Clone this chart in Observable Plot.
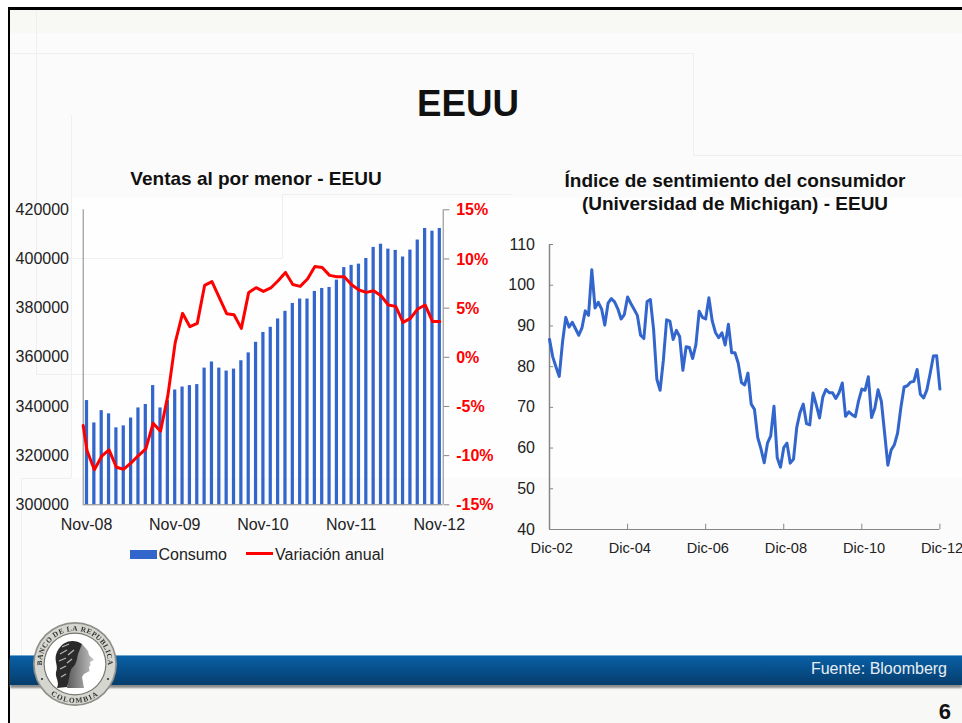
<!DOCTYPE html>
<html lang="es">
<head>
<meta charset="utf-8">
<script src="https://cdn.jsdelivr.net/npm/d3@7"></script>
<script src="https://cdn.jsdelivr.net/npm/@observablehq/plot@0.6"></script>
<style>
html,body{margin:0;padding:0;background:#fff}
body{width:962px;height:723px;overflow:hidden;position:relative;font-family:"Liberation Sans",Arial,sans-serif;color:#111}
#slide{position:absolute;left:8px;top:7px;right:0;bottom:0;background:#fbfbfb;border-left:2.5px solid #000;border-top:3px solid #000;overflow:hidden}
.abs{position:absolute;white-space:nowrap}
.deco{position:absolute;background:#efefef}
.plotbox{position:absolute;overflow:visible}
.plotbox svg{display:block;overflow:visible}
</style>
</head>
<body>
<div id="slide"></div>
<div class="abs" style="left:0;top:10px;width:962px;height:23px;background:#f8f8f5;margin-left:10px"></div>
<div class="abs" style="left:10px;top:690px;width:952px;height:33px;background:#f8f8f6"></div>
<div class="abs" style="left:71px;top:198px;width:891px;height:280px;background:#fefefe"></div>
<div class="deco" style="left:10px;top:53px;width:683px;height:1px"></div>
<div class="deco" style="left:693px;top:53px;width:1px;height:102px"></div>
<div class="deco" style="left:693px;top:155px;width:269px;height:1px"></div>
<div class="deco" style="left:36px;top:10px;width:1px;height:364px"></div>
<div class="deco" style="left:36px;top:374px;width:129px;height:1px"></div>
<div class="deco" style="left:71px;top:115px;width:1px;height:363px"></div>
<div class="deco" style="left:21px;top:478px;width:50px;height:1px"></div>
<div class="deco" style="left:21px;top:478px;width:1px;height:178px"></div>
<div class="deco" style="left:14px;top:258px;width:268px;height:1px"></div>
<div class="deco" style="left:282px;top:194px;width:1px;height:64px"></div>
<div class="deco" style="left:282px;top:194px;width:230px;height:1px"></div>

<div class="abs" style="left:268px;width:400px;top:83px;text-align:center;font-size:36.7px;line-height:42px;font-weight:bold">EEUU</div>
<div class="abs" style="left:56px;width:400px;top:169px;text-align:center;font-size:19px;line-height:20px;font-weight:bold">Ventas al por menor - EEUU</div>
<div class="abs" style="left:535px;width:400px;top:170px;text-align:center;font-size:19px;line-height:22.5px;font-weight:bold">Índice de sentimiento del consumidor<br>(Universidad de Michigan) - EEUU</div>

<div class="plotbox" id="barPlot" style="left:0;top:190px"></div>
<div class="plotbox" id="linePlot" style="left:0;top:190px"></div>
<div class="plotbox" id="sentPlot" style="left:480px;top:230px"></div>

<div class="abs" style="left:130px;top:550px;width:27px;height:9px;background:#3366cc"></div>
<div class="abs" style="left:158.5px;top:545px;font-size:16px;line-height:20px;color:#222">Consumo</div>
<div class="abs" style="left:246px;top:552px;width:27px;height:3px;background:#ff0000"></div>
<div class="abs" style="left:275px;top:545px;font-size:16px;line-height:20px;color:#222">Variación anual</div>

<div class="abs" style="left:10px;top:655px;width:952px;height:1.5px;background:#6da6cf"></div>
<div class="abs" style="left:10px;top:656px;width:952px;height:29px;background:linear-gradient(#0a60a6,#07508c 45%,#053d6c);box-shadow:0 2.5px 2px #8a8a8a"></div>
<div class="abs" style="left:747px;width:200px;top:659px;text-align:right;font-size:16px;line-height:20px;color:#e8eef4">Fuente: Bloomberg</div>
<div class="abs" style="left:900px;width:51px;top:699px;text-align:right;font-size:22px;line-height:26px;font-weight:bold;color:#111">6</div>

<svg class="abs" style="left:30px;top:619px" width="90" height="90" viewBox="-45 -45 90 90">
  <defs>
    <path id="arcTop" d="M -28.5 16.5 A 33 33 0 1 1 28.5 16.5"/>
    <path id="arcBot" d="M -29 26 A 39 39 0 0 0 29 26"/>
    <filter id="soft"><feGaussianBlur stdDeviation="0.3"/></filter>
    <linearGradient id="face" x1="0" x2="1"><stop offset="0" stop-color="#5a5a5a"/><stop offset="1" stop-color="#c4c4c4"/></linearGradient>
  </defs>
  <circle r="42" fill="#8f8f8a"/>
  <circle r="40.3" fill="#d6d6d0"/>
  <circle r="31.5" fill="#77776f"/>
  <circle r="30.3" fill="#ffffff"/>
  <g filter="url(#soft)">
    <text font-family="Liberation Serif" font-weight="bold" font-size="7.4" fill="#333" letter-spacing="0.5"><textPath href="#arcTop" startOffset="50%" text-anchor="middle">BANCO DE LA REPUBLICA</textPath></text>
    <text font-family="Liberation Serif" font-weight="bold" font-size="7.4" fill="#333" letter-spacing="1.3"><textPath href="#arcBot" startOffset="50%" text-anchor="middle">COLOMBIA</textPath></text>
    <circle cx="-33" cy="15" r="1.1" fill="#333"/><circle cx="33" cy="15" r="1.1" fill="#333"/>
    <path d="M 7 -20 L 13 -13 L 14 -9 L 19 -4 L 15 -2 L 15.5 1 L 14 3 L 14.5 7 L 9 10 L 7 13 L 9 24 L -8 24 L -4 0 Z" fill="url(#face)"/>
    <path d="M 7 -20 C 0 -25 -12 -25 -18 -12 C -22 -4 -16 2 -19 8 C -20 14 -15 18 -18 24 L -8 23 C -5 14 -6 8 -3 4 C 2 0 2 -6 3 -10 Z" fill="#2b2b2b"/>
    <path d="M -13 -17 L -6 -20 M -15 -10 L -8 -14 M -7 -9 L -1 -14 M -16 -3 L -9 -6 M -8 -1 L -3 -5 M -15 5 L -9 2 M -14 13 L -9 10" stroke="#b5b5b5" stroke-width="1.3"/>
  </g>
</svg>

<script>
// Ventas al por menor: Nov-08 a Nov-12
const retailSales = [342400,333300,338300,337000,331300,332100,335300,339400,340800,348500,339400,342400,346700,
  347900,348500,348900,355600,358100,355600,354400,355200,358600,361800,366100,370100,372200,375600,378700,381900,
  383700,383700,386800,388000,388400,391400,396500,397400,397900,400200,404700,406000,404000,403500,400800,403600,
  407700,412400,411300,412400];
// Variación anual (%); annualChangeLead is where the line enters at the axis
const annualChangeLead = -6.94;
const annualChange = [-9.48,-11.44,-10.06,-9.41,-11.18,-11.38,-10.73,-9.99,-9.31,-6.71,-7.52,-3.90,1.49,4.47,3.11,3.45,
  7.31,7.69,6.06,4.43,4.33,2.94,6.60,7.08,6.70,7.05,7.79,8.63,7.41,7.21,7.96,9.24,9.14,8.33,8.19,8.19,7.38,6.84,6.60,
  6.77,6.26,5.32,5.18,3.55,3.96,4.91,5.32,3.65,3.65];
const retailTickIdx = [0,12,24,36,48];
const retailTickLabels = ["Nov-08","Nov-09","Nov-10","Nov-11","Nov-12"];
const retailYTicks = [300000,320000,340000,360000,380000,400000,420000];
const pctTicks = [-15,-10,-5,0,5,10,15];

// Índice de sentimiento del consumidor: Dic-02 a Dic-12
const sentiment = [86.7,
  82.4,79.9,77.6,86.0,92.1,89.7,90.9,89.3,87.7,89.6,93.7,92.6,
  103.8,94.4,95.8,94.2,90.2,95.6,96.7,95.9,94.2,91.7,92.8,97.1,
  95.5,94.1,92.6,87.7,86.9,96.0,96.5,89.1,76.9,74.2,81.6,91.5,
  91.2,86.7,88.9,87.4,79.1,84.9,84.7,82.0,85.4,93.6,92.1,91.7,
  96.9,91.3,88.4,87.1,88.3,85.3,90.4,83.4,83.4,80.9,76.1,75.5,
  78.4,70.8,69.5,62.6,59.8,56.4,61.2,63.0,70.3,57.6,55.3,60.1,
  61.2,56.3,57.3,65.1,68.7,70.8,66.0,65.7,73.5,70.6,67.4,72.5,
  74.4,73.6,73.6,72.2,73.6,76.0,67.8,68.9,68.2,67.7,71.6,74.5,
  74.2,77.5,67.5,69.8,74.3,71.5,63.7,55.8,59.5,60.8,63.7,69.9,
  75.0,75.3,76.2,76.4,79.3,73.2,72.3,74.3,78.3,82.6,82.7,74.5];
const sentTickIdx = [0,24,48,72,96,120];
const sentTickLabels = ["Dic-02","Dic-04","Dic-06","Dic-08","Dic-10","Dic-12"];
const sentYTicks = [40,50,60,70,80,90,100,110];

const axisGrey = "#868686", textCol = "#222", barBlue = "#3366cc", red = "#ff0000";
const font = {fontFamily:'"Liberation Sans",Arial,sans-serif', fontSize:"16px", background:"transparent", overflow:"visible"};

const frame = {width:500, height:350, marginLeft:82.7, marginRight:57.3, marginTop:19.3, marginBottom:35.7};
const xDomain = [-0.517, 48.46];
const retailRows = retailSales.map((v,i)=>({i, v}));
const changeRows = [{i:xDomain[0], v:annualChangeLead}, ...annualChange.map((v,i)=>({i, v}))];

document.getElementById("barPlot").append(Plot.plot({
  ...frame, style:font,
  x:{domain:xDomain},
  y:{domain:[300000,420000]},
  marks:[
    Plot.rect(retailRows,{x1:d=>d.i-0.22,x2:d=>d.i+0.22,y1:()=>300000,y2:"v",fill:barBlue}),
    Plot.ruleX([xDomain[0]],{stroke:axisGrey,strokeWidth:1}),
    Plot.ruleY([300000],{stroke:axisGrey,strokeWidth:1}),
    Plot.axisY(retailYTicks,{anchor:"left",tickSize:0,tickPadding:14.2,tickFormat:d=>String(d),label:null,fill:textCol}),
    Plot.axisX(retailTickIdx,{anchor:"bottom",tickSize:0,tickPadding:13.5,dx:-0.5,tickFormat:i=>retailTickLabels[retailTickIdx.indexOf(i)],label:null,fill:textCol})
  ]
}));

document.getElementById("linePlot").append(Plot.plot({
  ...frame, style:font,
  x:{domain:xDomain, axis:null},
  y:{domain:[-15,15]},
  marks:[
    Plot.ruleX([xDomain[1]],{stroke:axisGrey,strokeWidth:1}),
    Plot.axisY(pctTicks,{anchor:"right",tickSize:5.6,text:null,stroke:axisGrey,label:null}),
    Plot.axisY(pctTicks,{anchor:"right",tickSize:0,tickPadding:13,dy:0.5,tickFormat:d=>d+"%",fill:red,fontWeight:"bold",label:null}),
    Plot.line(changeRows,{x:"i",y:"v",stroke:red,strokeWidth:3,strokeLinejoin:"round"})
  ]
}));

const sentRows = sentiment.map((v,i)=>({i, v}));
document.getElementById("sentPlot").append(Plot.plot({
  width:482, height:332, marginLeft:69, marginRight:22.6, marginTop:14, marginBottom:33, style:font,
  x:{domain:[0,120]},
  y:{domain:[40,110]},
  marks:[
    Plot.ruleX([0],{stroke:axisGrey,strokeWidth:1.5}),
    Plot.ruleY([40],{stroke:axisGrey,strokeWidth:1}),
    Plot.ruleY(sentYTicks,{x1:0,x2:1.25,stroke:axisGrey}),
    Plot.ruleX(sentTickIdx,{y1:40,y2:41.3,stroke:axisGrey}),
    Plot.axisY(sentYTicks,{anchor:"left",tickSize:0,tickPadding:14.5,label:null,fill:textCol}),
    Plot.axisX(sentTickIdx,{anchor:"bottom",tickSize:0,tickPadding:13,fontSize:14.6,dx:2.2,tickFormat:i=>sentTickLabels[sentTickIdx.indexOf(i)],label:null,fill:textCol}),
    Plot.line(sentRows,{x:"i",y:"v",stroke:barBlue,strokeWidth:3,strokeLinejoin:"round"})
  ]
}));
</script>
</body>
</html>
